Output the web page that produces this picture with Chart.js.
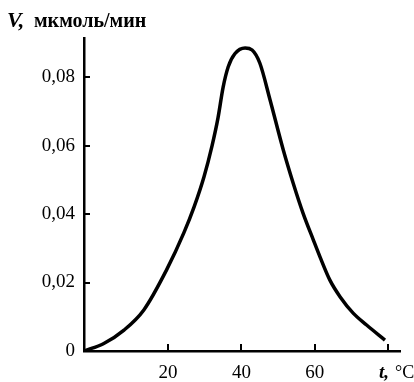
<!DOCTYPE html>
<html>
<head>
<meta charset="utf-8">
<script src="https://cdn.jsdelivr.net/npm/chart.js@4/dist/chart.umd.min.js"></script>
<style>
  html, body { margin: 0; padding: 0; background: #fff; }
  #wrap { width: 414px; height: 382px; }
</style>
</head>
<body>
<div id="wrap"><canvas id="rateChart"></canvas></div>
<script>
// temperature, °C
var temps = [-2.9, 2.5, 8.0, 13.4, 19.6, 24.3, 27.1, 29.8, 32.0, 33.6, 35.0, 36.4, 38.2, 41.0,
    42.9, 45.0, 47.8, 51.4, 54.1, 56.8, 59.6, 61.4, 64.1, 66.9, 70.5, 74.1, 79.1];
// reaction rate V, мкмоль/мин
var rates = [0, 0.0022, 0.0061, 0.012, 0.0237, 0.0345, 0.0421, 0.0509, 0.060, 0.068, 0.077, 0.083, 0.0868, 0.0885,
    0.0879, 0.0841, 0.0733, 0.0587, 0.049, 0.0402, 0.0324, 0.0275, 0.0207, 0.0158, 0.011, 0.0076, 0.0032];
var xTicks = [0, 20, 40, 60, 80];
var xTickLabels = ['', '20', '40', '60', ''];
var yTicks = [0, 0.02, 0.04, 0.06, 0.08];
var yTickLabels = ['0', '0,02', '0,04', '0,06', '0,08'];

var points = temps.map(function (t, i) {
    return { x: t, y: rates[i] };
});

var serif = "'Liberation Serif', 'DejaVu Serif', serif";

// short tick marks pointing into the plot, plus the axis captions
var axisDecor = {
    id: 'axisDecor',
    afterDraw: function (chart) {
        var c = chart.ctx;
        var area = chart.chartArea;
        var xs = chart.scales.x, ys = chart.scales.y;
        c.save();
        c.strokeStyle = '#000';
        c.lineWidth = 2;
        xTicks.forEach(function (v) {
            if (v === 0) return;
            var px = Math.round(xs.getPixelForValue(v));
            c.beginPath();
            c.moveTo(px, area.bottom);
            c.lineTo(px, area.bottom - 7);
            c.stroke();
        });
        yTicks.forEach(function (v) {
            if (v === 0) return;
            var py = Math.round(ys.getPixelForValue(v));
            c.beginPath();
            c.moveTo(area.left, py);
            c.lineTo(area.left + 6, py);
            c.stroke();
        });

        c.fillStyle = '#000';
        c.textBaseline = 'alphabetic';
        // y caption
        c.font = "bold italic 22px " + serif;
        c.fillText('V,', 7, 27);
        c.font = "bold 20px " + serif;
        c.fillText('мкмоль/мин', 34, 27);
        // x caption
        c.font = "bold italic 19px " + serif;
        c.fillText('t,', 379, 378);
        c.font = "18px " + serif;
        c.fillText('°C', 395, 378);
        c.restore();
    }
};

var config = {
    type: 'line',
    data: {
        datasets: [{
            data: points,
            borderColor: '#000',
            borderWidth: 3.5,
            pointRadius: 0,
            fill: false,
            cubicInterpolationMode: 'monotone'
        }]
    },
    options: {
        responsive: true,
        maintainAspectRatio: false,
        animation: false,
        layout: {
            padding: { top: 38, right: 14, left: 0, bottom: 0 }
        },
        plugins: {
            legend: { display: false },
            tooltip: { enabled: false }
        },
        scales: {
            x: {
                type: 'linear',
                min: -2.9,
                max: 83.2,
                afterFit: function (scale) { scale.height = 31; },
                afterBuildTicks: function (scale) {
                    scale.ticks = xTicks.map(function (v) { return { value: v }; });
                },
                grid: { display: false, drawTicks: false },
                border: { display: true, color: '#000', width: 2.5 },
                ticks: {
                    padding: 11,
                    color: '#000',
                    font: { family: serif, size: 19 },
                    callback: function (v) {
                        var i = xTicks.indexOf(v);
                        return i < 0 ? '' : xTickLabels[i];
                    }
                }
            },
            y: {
                type: 'linear',
                min: 0,
                max: 0.0914,
                afterFit: function (scale) { scale.width = 84; },
                afterBuildTicks: function (scale) {
                    scale.ticks = yTicks.map(function (v) { return { value: v }; });
                },
                grid: { display: false, drawTicks: false },
                border: { display: true, color: '#000', width: 2.5 },
                ticks: {
                    padding: 9,
                    color: '#000',
                    font: { family: serif, size: 19 },
                    callback: function (v) {
                        var i = yTicks.indexOf(v);
                        return i < 0 ? '' : yTickLabels[i];
                    }
                }
            }
        }
    },
    plugins: [axisDecor]
};

window.rateChart = new Chart(document.getElementById('rateChart').getContext('2d'), config);
</script>
</body>
</html>
